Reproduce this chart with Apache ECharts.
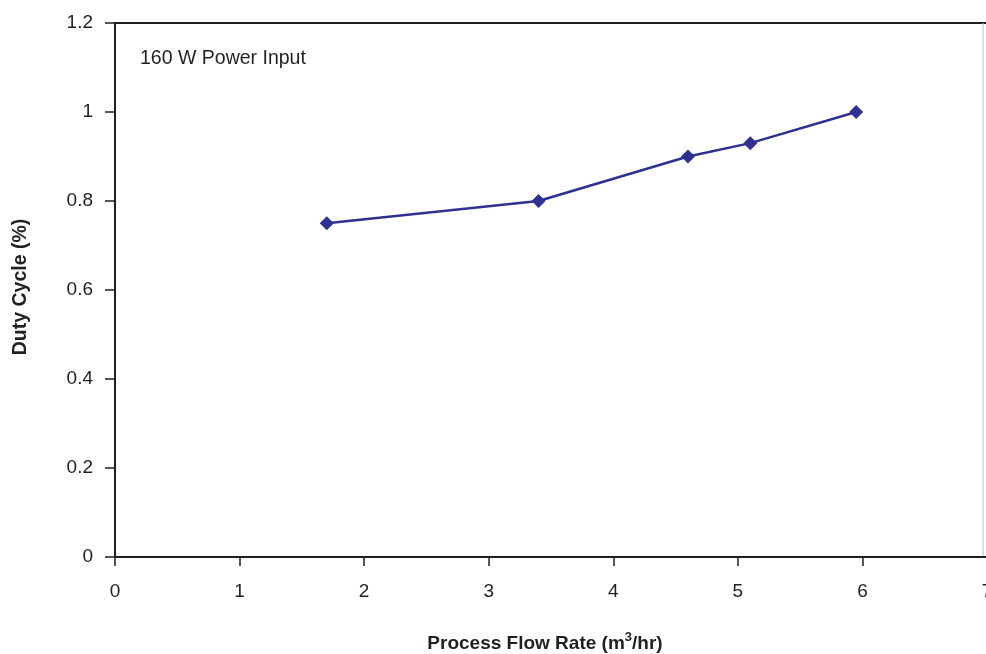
<!DOCTYPE html>
<html><head><meta charset="utf-8">
<script src="https://cdn.jsdelivr.net/npm/echarts@6/dist/echarts.min.js"></script>
<style>html,body{margin:0;padding:0;background:#fff}#c{width:986px;height:654px}</style>
</head><body><div id="c"></div>
<script>
const flowRate = [1.7, 3.4, 4.6, 5.1, 5.95];
const dutyCycle = [0.75, 0.80, 0.90, 0.93, 1.00];
const seriesName = '160 W Power Input';
const yTitle = 'Duty Cycle (%)';

const chart = echarts.init(document.getElementById('c'));
const font = 'Liberation Sans, Arial, sans-serif';
const txt = '#231f20';
chart.setOption({
  animation: false,
  grid: { left: 115, top: 23, width: 872, height: 534, show: false, outerBoundsMode: 'none', containLabel: false },
  graphic: [
    { type: 'line', shape: { x1: 115, y1: 23, x2: 986, y2: 23 }, style: { stroke: '#231f20', lineWidth: 2 } },
    { type: 'line', shape: { x1: 983, y1: 23, x2: 983, y2: 557 }, style: { stroke: '#bbbbbb', lineWidth: 1 } },
    { type: 'text', left: 140, top: 49, style: { text: seriesName, font: '19.5px ' + font, fill: txt } }
  ],
  xAxis: {
    type: 'value', min: 0, max: 7, interval: 1,
    axisLine: { lineStyle: { color: '#231f20', width: 2 } },
    axisTick: { show: true, length: 9, lineStyle: { color: '#231f20', width: 1.5 } },
    axisLabel: { margin: 25, color: txt, fontSize: 19, fontFamily: font, showMaxLabel: true },
    splitLine: { show: false },
    name: '{a|Process Flow Rate (m}{s|3}{a|/hr)}',
    nameLocation: 'middle', nameGap: 74,
    nameTextStyle: {
      padding: [0, 12, 0, 0],
      rich: {
        a: { fontSize: 19, fontWeight: 'bold', fontFamily: font, color: txt, verticalAlign: 'bottom', lineHeight: 22 },
        s: { fontSize: 13, fontWeight: 'bold', fontFamily: font, color: txt, verticalAlign: 'top', lineHeight: 22, padding: [0, 0, 8, 0] }
      }
    }
  },
  yAxis: {
    type: 'value', min: 0, max: 1.2, interval: 0.2,
    axisLine: { show: true, lineStyle: { color: '#231f20', width: 2 } },
    axisTick: { show: true, length: 10, lineStyle: { color: '#231f20', width: 1.5 } },
    axisLabel: { margin: 22, color: txt, fontSize: 19, fontFamily: font, formatter: v => String(Math.round(v * 10) / 10) },
    splitLine: { show: false },
    name: yTitle, nameLocation: 'middle', nameGap: 84, nameRotate: 90,
    nameTextStyle: { fontSize: 19.5, fontWeight: 'bold', fontFamily: font, color: txt, padding: [0, 0, 0, 6] }
  },
  series: [{
    type: 'line', name: seriesName,
    data: flowRate.map((x, i) => [x, dutyCycle[i]]),
    symbol: 'diamond', symbolSize: 14,
    lineStyle: { color: '#2e3192', width: 2.5 },
    itemStyle: { color: '#2e3192' }
  }]
});
</script></body></html>
